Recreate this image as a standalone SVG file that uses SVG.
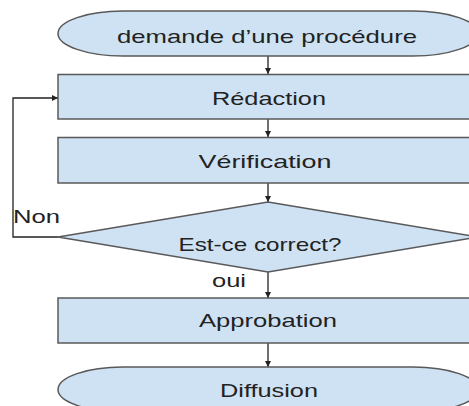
<svg xmlns="http://www.w3.org/2000/svg" width="469" height="406" viewBox="0 0 469 406">
<style>
.shape{fill:#cfe2f3;stroke:#595959;stroke-width:1.5}
.lbl{font-family:"Liberation Sans",Arial,sans-serif;font-size:19px;fill:#222222;text-anchor:middle}
.edge{fill:none;stroke:#222222;stroke-width:1.3}
.elbl{font-family:"Liberation Sans",Arial,sans-serif;font-size:19px;fill:#222222}
</style>
<defs>
<marker id="arr" viewBox="0 0 10 10" refX="10" refY="5" markerWidth="6" markerHeight="6" markerUnits="userSpaceOnUse" orient="auto">
<path d="M0,0 L10,5 L0,10 z" fill="#222222"/>
</marker>
</defs>
<rect width="469" height="406" fill="#ffffff"/>
<g id="connectors">
<line class="edge" x1="268" y1="56" x2="268" y2="74" marker-end="url(#arr)"/>
<line class="edge" x1="268" y1="119" x2="268" y2="137" marker-end="url(#arr)"/>
<line class="edge" x1="268" y1="183" x2="268" y2="202" marker-end="url(#arr)"/>
<line class="edge" x1="268" y1="272" x2="268" y2="298" marker-end="url(#arr)"/>
<line class="edge" x1="268" y1="343" x2="268" y2="367" marker-end="url(#arr)"/>
<path class="edge" d="M58,237 H13 V98 H58" marker-end="url(#arr)"/>
<text class="elbl" x="13" y="223" textLength="47" lengthAdjust="spacingAndGlyphs">Non</text>
<text class="elbl" x="212" y="287" textLength="34" lengthAdjust="spacingAndGlyphs">oui</text>
</g>
<g id="node-demande">
<rect class="shape" x="58" y="11" width="420" height="45" rx="65" ry="22.5"/>
<text class="lbl" x="267" y="43" textLength="300" lengthAdjust="spacingAndGlyphs">demande d’une procédure</text>
</g>
<g id="node-redaction">
<rect class="shape" x="58" y="74.5" width="420" height="44.5"/>
<text class="lbl" x="269" y="105" textLength="114" lengthAdjust="spacingAndGlyphs">Rédaction</text>
</g>
<g id="node-verification">
<rect class="shape" x="58" y="137.5" width="420" height="45.5"/>
<text class="lbl" x="265" y="168" textLength="133" lengthAdjust="spacingAndGlyphs">Vérification</text>
</g>
<g id="node-decision">
<polygon class="shape" points="268,202 478,237 268,272 58,237"/>
<text class="lbl" x="260" y="251" textLength="163" lengthAdjust="spacingAndGlyphs">Est-ce correct?</text>
</g>
<g id="node-approbation">
<rect class="shape" x="58" y="298" width="420" height="45"/>
<text class="lbl" x="268" y="327" textLength="138" lengthAdjust="spacingAndGlyphs">Approbation</text>
</g>
<g id="node-diffusion">
<rect class="shape" x="58" y="367" width="420" height="45" rx="65" ry="22.5"/>
<text class="lbl" x="269" y="397" textLength="98" lengthAdjust="spacingAndGlyphs">Diffusion</text>
</g>
</svg>
